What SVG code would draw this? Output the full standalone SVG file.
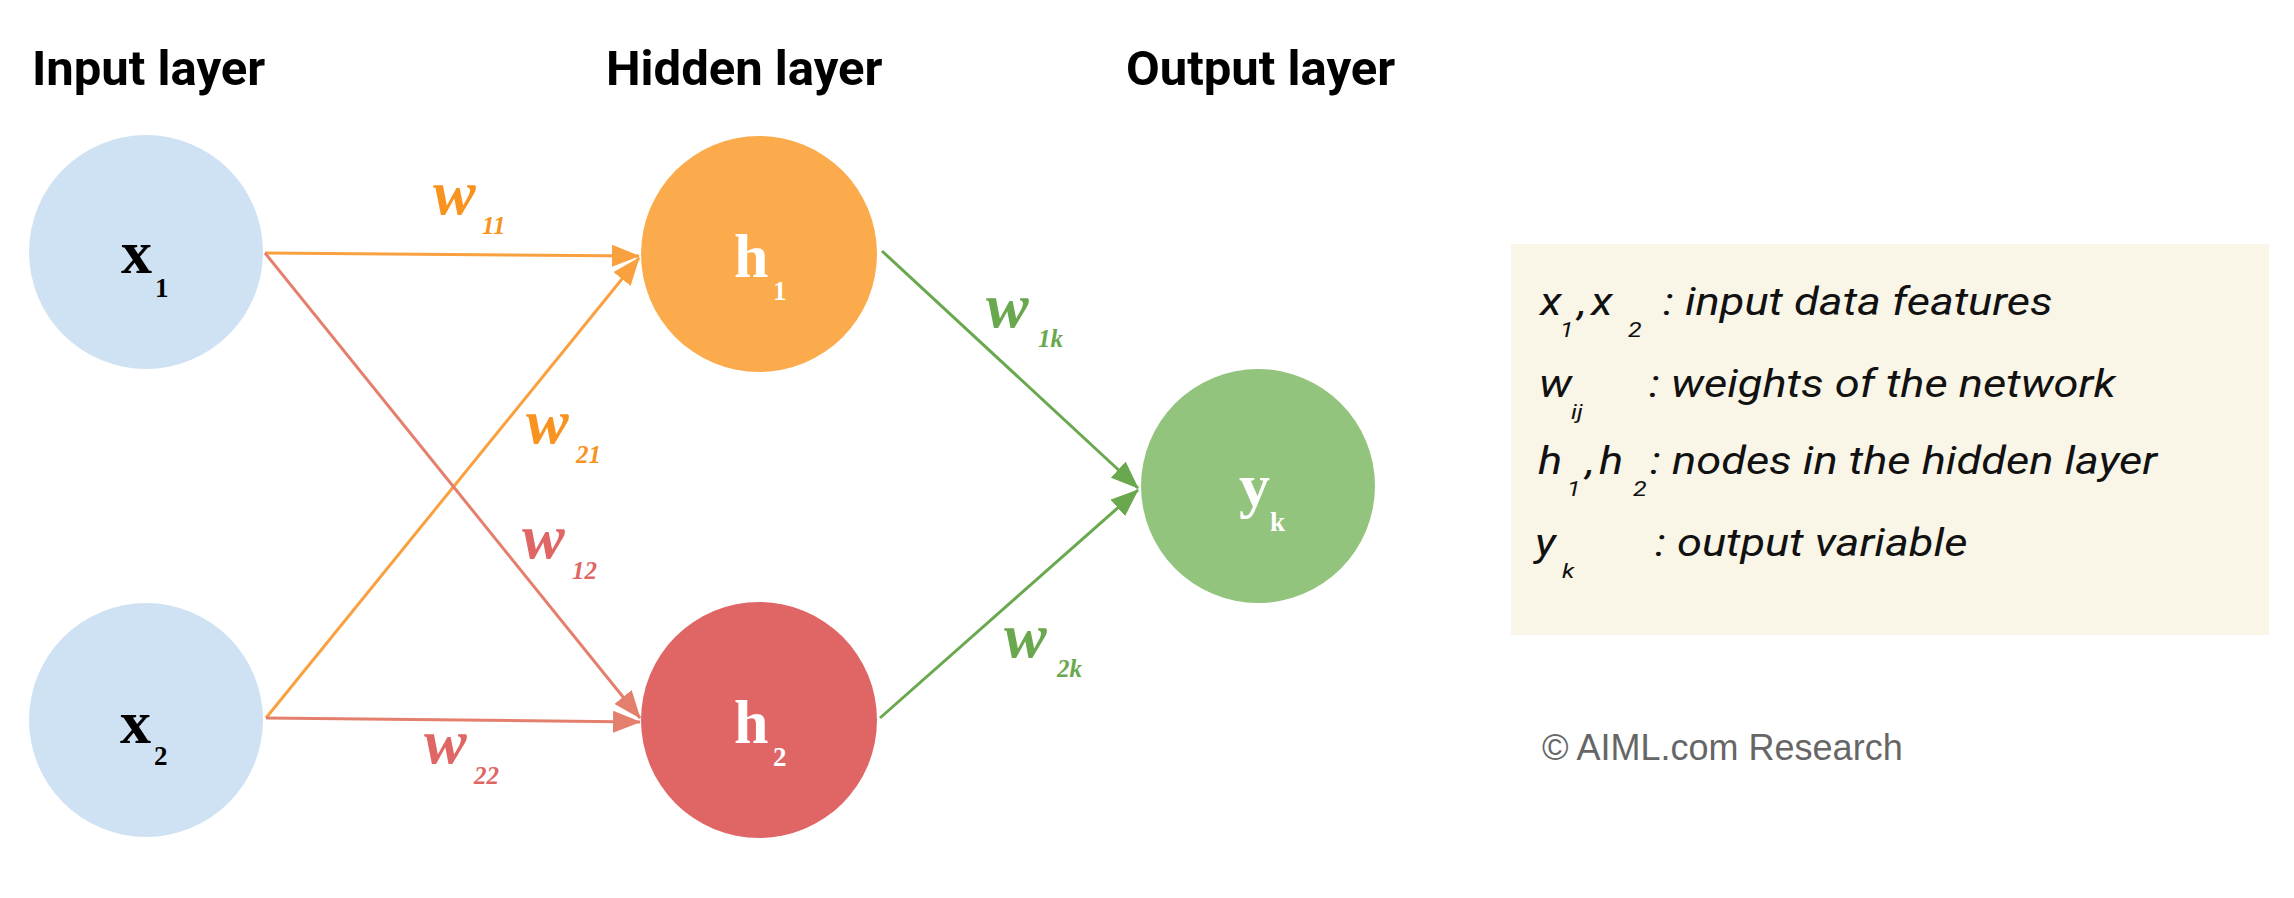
<svg xmlns="http://www.w3.org/2000/svg" width="2294" height="898" viewBox="0 0 2294 898">
<style>
.title{font-family:Roboto,"Liberation Sans",Arial,sans-serif;font-weight:bold;font-size:49px;fill:#000}
.nl{font-family:"Liberation Serif","Times New Roman",serif;font-weight:bold;font-size:62px}
.ns{font-family:"Liberation Serif","Times New Roman",serif;font-weight:bold;font-size:27px}
.w{font-family:"Liberation Serif","Times New Roman",serif;font-weight:bold;font-style:italic;font-size:64px}
.ws{font-family:"Liberation Serif","Times New Roman",serif;font-weight:bold;font-style:italic;font-size:25px}
.lg{font-family:Roboto,"Liberation Sans",sans-serif;font-style:italic;font-size:38px;fill:#111}
.lgs{font-family:Roboto,"Liberation Sans",sans-serif;font-style:italic;font-size:21px;fill:#111}
.or{fill:#f7931e}.rd{fill:#e06666}.gr{fill:#6aa84f}
.eo{stroke:#f9a03f;stroke-width:3;fill:none}
.er{stroke:#e47f6e;stroke-width:3;fill:none}
.eg{stroke:#6aa84f;stroke-width:3;fill:none}
</style>
<defs>
<marker id="ao" markerUnits="userSpaceOnUse" markerWidth="28" markerHeight="22" refX="27" refY="11" orient="auto"><path d="M0,0 L28,11 L0,22 z" fill="#f9a03f"/></marker>
<marker id="ar" markerUnits="userSpaceOnUse" markerWidth="28" markerHeight="22" refX="27" refY="11" orient="auto"><path d="M0,0 L28,11 L0,22 z" fill="#e47f6e"/></marker>
<marker id="ag" markerUnits="userSpaceOnUse" markerWidth="28" markerHeight="22" refX="27" refY="11" orient="auto"><path d="M0,0 L28,11 L0,22 z" fill="#6aa84f"/></marker>
</defs>
<rect width="2294" height="898" fill="#fff"/>
<g id="titles">
<text class="title" x="32" y="85">Input layer</text>
<text class="title" x="606" y="85">Hidden layer</text>
<text class="title" x="1126" y="85">Output layer</text>
</g>
<g id="connectors">
<line class="eo" x1="265" y1="253" x2="639" y2="256" marker-end="url(#ao)"/>
<line class="eo" x1="266" y1="718" x2="639" y2="258" marker-end="url(#ao)"/>
<line class="er" x1="265" y1="253" x2="640" y2="718" marker-end="url(#ar)"/>
<line class="er" x1="266" y1="718" x2="640" y2="722" marker-end="url(#ar)"/>
<line class="eg" x1="882" y1="251" x2="1138" y2="488" marker-end="url(#ag)"/>
<line class="eg" x1="880" y1="718" x2="1138" y2="490" marker-end="url(#ag)"/>
<g id="w11"><text class="w or" x="433" y="214">w</text><text class="ws or" x="482" y="234">11</text></g>
<g id="w21"><text class="w or" x="526" y="443">w</text><text class="ws or" x="576" y="463">21</text></g>
<g id="w12"><text class="w rd" x="522" y="558">w</text><text class="ws rd" x="572" y="579">12</text></g>
<g id="w22"><text class="w rd" x="424" y="763">w</text><text class="ws rd" x="474" y="784">22</text></g>
<g id="w1k"><text class="w gr" x="986" y="327">w</text><text class="ws gr" x="1038" y="347">1k</text></g>
<g id="w2k"><text class="w gr" x="1004" y="657">w</text><text class="ws gr" x="1057" y="677">2k</text></g>
</g>
<g id="x1"><circle cx="146" cy="252" r="117" fill="#cfe2f3"/><text class="nl" x="121" y="273" fill="#000">x</text><text class="ns" x="155" y="297" fill="#000">1</text></g>
<g id="x2"><circle cx="146" cy="720" r="117" fill="#cfe2f3"/><text class="nl" x="120" y="743" fill="#000">x</text><text class="ns" x="154" y="765" fill="#000">2</text></g>
<g id="h1"><circle cx="759" cy="254" r="118" fill="#fbaa4c"/><text class="nl" x="734" y="277" fill="#fff">h</text><text class="ns" x="773" y="300" fill="#fff">1</text></g>
<g id="h2"><circle cx="759" cy="720" r="118" fill="#e06666"/><text class="nl" x="734" y="743" fill="#fff">h</text><text class="ns" x="773" y="766" fill="#fff">2</text></g>
<g id="yk"><circle cx="1258" cy="486" r="117" fill="#93c47d"/><text class="nl" x="1239" y="506" fill="#fff">y</text><text class="ns" x="1270" y="531" fill="#fff">k</text></g>
<g id="legend">
<rect x="1511" y="244" width="758" height="391" fill="#f9f5e7"/>
<text class="lg" transform="translate(1540,315) scale(1.19,1)">x</text>
<text class="lgs" transform="translate(1560,337) scale(1.19,1)">1</text>
<text class="lg" transform="translate(1578,315) scale(1.19,1)">,</text>
<text class="lg" transform="translate(1591,315) scale(1.19,1)">x</text>
<text class="lgs" transform="translate(1628,337) scale(1.19,1)">2</text>
<text class="lg" transform="translate(1663,315) scale(1.19,1)">: input data features</text>
<text class="lg" transform="translate(1539,397) scale(1.19,1)">w</text>
<text class="lgs" transform="translate(1571,419) scale(1.19,1)">ij</text>
<text class="lg" transform="translate(1649,397) scale(1.19,1)">: weights of the network</text>
<text class="lg" transform="translate(1538,474) scale(1.19,1)">h</text>
<text class="lgs" transform="translate(1567,496) scale(1.19,1)">1</text>
<text class="lg" transform="translate(1586,474) scale(1.19,1)">,</text>
<text class="lg" transform="translate(1599,474) scale(1.19,1)">h</text>
<text class="lgs" transform="translate(1633,496) scale(1.19,1)">2</text>
<text class="lg" transform="translate(1650,474) scale(1.19,1)">: nodes in the hidden layer</text>
<text class="lg" transform="translate(1535,556) scale(1.19,1)">y</text>
<text class="lgs" transform="translate(1562,578) scale(1.19,1)">k</text>
<text class="lg" transform="translate(1655,556) scale(1.19,1)">: output variable</text>
</g>
<g id="credit"><text x="1542" y="760" font-family="Liberation Sans,Arial,sans-serif" font-size="36" fill="#666">© AIML.com Research</text></g>
</svg>
